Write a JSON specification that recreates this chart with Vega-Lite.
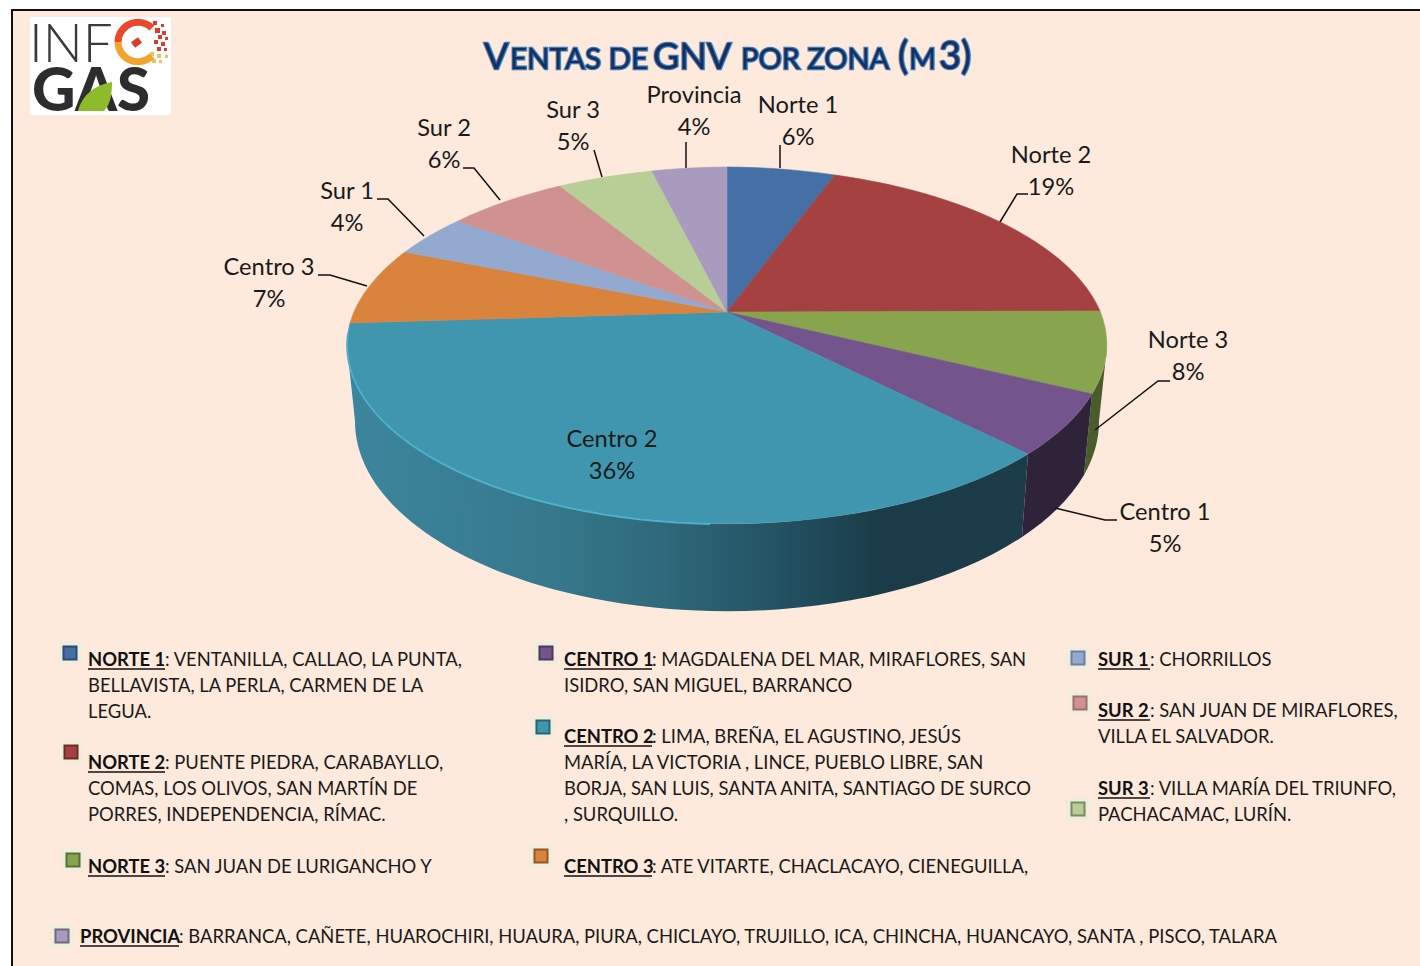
{
"$schema":"https://vega.github.io/schema/vega-lite/v6.json",
"width":1420,"height":966,"padding":0,
"autosize":{"type":"none"},
"background":"#ffffff",
"config":{"view":{"stroke":null},"font":"Lato"},
"datasets":{
"zones":[
{"idx":1,"zone":"Norte 1","head":"NORTE 1","share":0.06},
{"idx":2,"zone":"Norte 2","head":"NORTE 2","share":0.19},
{"idx":3,"zone":"Norte 3","head":"NORTE 3","share":0.08},
{"idx":4,"zone":"Centro 1","head":"CENTRO 1","share":0.05},
{"idx":5,"zone":"Centro 2","head":"CENTRO 2","share":0.36},
{"idx":6,"zone":"Centro 3","head":"CENTRO 3","share":0.07},
{"idx":7,"zone":"Sur 1","head":"SUR 1","share":0.04},
{"idx":8,"zone":"Sur 2","head":"SUR 2","share":0.06},
{"idx":9,"zone":"Sur 3","head":"SUR 3","share":0.05},
{"idx":10,"zone":"Provincia","head":"PROVINCIA","share":0.04}
],
"lines":[
{"n":1,"text":": VENTANILLA, CALLAO, LA PUNTA,"},
{"n":2,"text":"BELLAVISTA, LA PERLA, CARMEN DE LA"},
{"n":3,"text":"LEGUA."},
{"n":4,"text":": PUENTE PIEDRA, CARABAYLLO,"},
{"n":5,"text":"COMAS, LOS OLIVOS, SAN MARTÍN DE"},
{"n":6,"text":"PORRES, INDEPENDENCIA, RÍMAC."},
{"n":7,"text":": SAN JUAN DE LURIGANCHO Y"},
{"n":8,"text":": MAGDALENA DEL MAR, MIRAFLORES, SAN"},
{"n":9,"text":"ISIDRO, SAN MIGUEL, BARRANCO"},
{"n":10,"text":": LIMA, BREÑA, EL AGUSTINO, JESÚS"},
{"n":11,"text":"MARÍA, LA VICTORIA , LINCE, PUEBLO LIBRE, SAN"},
{"n":12,"text":"BORJA, SAN LUIS, SANTA ANITA, SANTIAGO DE SURCO"},
{"n":13,"text":", SURQUILLO."},
{"n":14,"text":": ATE VITARTE, CHACLACAYO, CIENEGUILLA,"},
{"n":15,"text":": CHORRILLOS"},
{"n":16,"text":": SAN JUAN DE MIRAFLORES,"},
{"n":17,"text":"VILLA EL SALVADOR."},
{"n":18,"text":": VILLA MARÍA DEL TRIUNFO,"},
{"n":19,"text":"PACHACAMAC, LURÍN."},
{"n":20,"text":": BARRANCA, CAÑETE, HUAROCHIRI, HUAURA, PIURA, CHICLAYO, TRUJILLO, ICA, CHINCHA, HUANCAYO,  SANTA , PISCO, TALARA"}
],
"title":[
{"n":1,"text":"V"},{"n":2,"text":"ENTAS DE"},{"n":3,"text":"GNV"},{"n":4,"text":"POR ZONA"},{"n":5,"text":"("},{"n":6,"text":"M"},{"n":7,"text":"3)"}
],
"logoFill":[{"part":"box"},{"part":"dotsRed"},{"part":"dotsYellow"}],
"logoStroke":[{"part":"lower"},{"part":"upper"},{"part":"needle"}]
},
"data":{"name":"zones"},
"layer":[
{"data":{"values":[{"part":"panel"}]},"mark":{"type":"point","filled":true,"size":4,"opacity":1,"fill":"#fdeadc","strokeWidth":0,"shape":"M-698,-473 H710 V483 H-698 Z"}},
{"data":{"values":[{"part":"border"}]},"mark":{"type":"point","filled":false,"size":4,"opacity":1,"stroke":"#111111","strokeWidth":2,"shape":"M-698,483 V-473 H710"}},
{"data":{"name":"logoFill"},"mark":{"type":"point","filled":true,"size":4,"opacity":1,"strokeWidth":0},"encoding":{
 "shape":{"field":"part","type":"nominal","legend":null,"scale":{"domain":["box","dotsRed","dotsYellow"],"range":[
  "M-680,-466 H-539 V-368 H-680 Z",
  "M-557,-462 h4 v4 h-4 Z M-549,-459 h3 v3 h-3 Z M-555,-455 h5 v5 h-5 Z M-548,-452 h4 v4 h-4 Z M-552,-448 h4 v4 h-4 Z M-545,-446 h3 v3 h-3 Z M-556,-443 h4 v4 h-4 Z M-549,-441 h4 v4 h-4 Z M-553,-436 h4 v4 h-4 Z M-546,-435 h3 v3 h-3 Z",
  "M-560,-431 h4 v4 h-4 Z M-553,-429 h4 v4 h-4 Z M-545,-428 h3 v3 h-3 Z M-558,-424 h4 v4 h-4 Z M-551,-423 h3 v3 h-3 Z"
 ]}},
 "fill":{"field":"part","type":"nominal","legend":null,"scale":{"domain":["box","dotsRed","dotsYellow"],"range":["#ffffff","#dd3a2a","#eec25a"]}}
}},
{"data":{"name":"logoStroke"},"mark":{"type":"point","filled":false,"size":4,"opacity":1,"strokeWidth":7},"encoding":{
 "shape":{"field":"part","type":"nominal","legend":null,"scale":{"domain":["lower","upper","needle"],"range":[
  "M-592,-441 A20,20 0 0 0 -558,-427",
  "M-592,-441 A20,20 0 0 1 -558,-455",
  "M-577,-438 L-570,-443"
 ]}},
 "stroke":{"field":"part","type":"nominal","legend":null,"scale":{"domain":["lower","upper","needle"],"range":["#f3a32b","#e9482b","#dd3a2a"]}}
}},
{"data":{"values":[{"logo":"INF"}]},"mark":{"type":"text","font":"Lato","fontWeight":300,"fontSize":53,"align":"left","baseline":"alphabetic","dx":-681,"dy":-421,"fill":"#3a3a3a"},"encoding":{"text":{"field":"logo"}}},
{"data":{"values":[{"logo":"GAS"}]},"mark":{"type":"text","font":"Lato","fontWeight":900,"fontSize":60,"align":"left","baseline":"alphabetic","dx":-678,"dy":-372,"fill":"#2d2d2d"},"encoding":{"text":{"field":"logo"}}},
{"data":{"values":[{"logo":"leaf"}]},"mark":{"type":"point","filled":true,"size":4,"opacity":1,"strokeWidth":0,"fill":"#8dbb2c","shape":"M-632,-372 C-628,-388 -615,-398 -598,-401 C-598,-388 -600,-378 -606,-372 Z"}},
{"data":{"name":"title"},"mark":{"type":"text","font":"Lato","align":"left","baseline":"alphabetic","dy":-414,"stroke":"#3f78b8","strokeWidth":2.4,"fill":"#3f78b8"},"encoding":{
 "x":{"field":"n","type":"quantitative","axis":null,"scale":{"domain":[1,2,3,4,5,6,7],"range":[484,510,653,741,898,909,939]}},
 "text":{"field":"text"},
 "size":{"field":"n","type":"quantitative","legend":null,"scale":{"zero":false,"domain":[1,2,3,4,5,6,7],"range":[36,29.5,36,29,38,29,38]}}
}},
{"data":{"name":"title"},"mark":{"type":"text","font":"Lato","align":"left","baseline":"alphabetic","dy":-414,"fill":"#14305c"},"encoding":{
 "x":{"field":"n","type":"quantitative","axis":null,"scale":{"domain":[1,2,3,4,5,6,7],"range":[484,510,653,741,898,909,939]}},
 "text":{"field":"text"},
 "size":{"field":"n","type":"quantitative","legend":null,"scale":{"zero":false,"domain":[1,2,3,4,5,6,7],"range":[36,29.5,36,29,38,29,38]}}
}},
{"transform":[{"filter":"datum.zone === 'Centro 2'"}],"mark":{"type":"point","filled":true,"size":4,"opacity":1,"strokeWidth":0,
 "fill":{"gradient":"linear","x1":0,"y1":0,"x2":1,"y2":0,"stops":[{"offset":0,"color":"#3c869d"},{"offset":0.3,"color":"#36788c"},{"offset":0.45,"color":"#2f6a7c"},{"offset":0.65,"color":"#225061"},{"offset":0.78,"color":"#1a3b47"},{"offset":1,"color":"#1b3c48"}]},
 "shape":"M318,-29 L312,54 A372,190 0 0 1 -355,-62 L-363,-137 A380,179 0 0 0 318,-29 Z"}},
{"transform":[{"filter":"datum.zone === 'Centro 1' || datum.zone === 'Norte 3'"}],"mark":{"type":"point","filled":true,"size":4,"opacity":1,"strokeWidth":0},"encoding":{
 "shape":{"field":"zone","type":"nominal","legend":null,"scale":{"domain":["Centro 1","Norte 3"],"range":[
  "M382,-89 L374,-8 A372,190 0 0 1 312,54 L318,-29 A380,179 0 0 0 382,-89 Z",
  "M397,-137 L389,-62 A372,190 0 0 1 374,-8 L382,-89 A380,179 0 0 0 397,-137 Z"]}},
 "fill":{"field":"zone","type":"nominal","legend":null,"scale":{"domain":["Centro 1","Norte 3"],"range":["#2e2339","#4a5c2c"]}}
}},
{"mark":{"type":"point","filled":true,"size":4,"opacity":1,"strokeWidth":0.6},"encoding":{
 "shape":{"field":"zone","type":"nominal","legend":null,"scale":{"domain":["Norte 1","Norte 2","Norte 3","Centro 1","Centro 2","Centro 3","Sur 1","Sur 2","Sur 3","Provincia"],"range":[
  "M17,-171 L17,-316 A380,179 0 0 1 125,-308 Z",
  "M17,-171 L125,-308 A380,179 0 0 1 390,-172 Z",
  "M17,-171 L390,-172 A380,179 0 0 1 382,-89 Z",
  "M17,-171 L382,-89 A380,179 0 0 1 318,-29 Z",
  "M17,-171 L318,-29 A380,179 0 0 1 -360,-160 Z",
  "M17,-171 L-360,-160 A380,179 0 0 1 -305,-231 Z",
  "M17,-171 L-305,-231 A380,179 0 0 1 -252,-262 Z",
  "M17,-171 L-252,-262 A380,179 0 0 1 -150,-297 Z",
  "M17,-171 L-150,-297 A380,179 0 0 1 -58,-312 Z",
  "M17,-171 L-58,-312 A380,179 0 0 1 17,-316 Z"]}},
 "fill":{"field":"zone","type":"nominal","legend":null,"scale":{"domain":["Norte 1","Norte 2","Norte 3","Centro 1","Centro 2","Centro 3","Sur 1","Sur 2","Sur 3","Provincia"],"range":["#4470a5","#a54241","#88a44e","#73548c","#4096ae","#da833c","#93a9cf","#d09291","#b9cd96","#a99bbd"]}},
 "stroke":{"field":"zone","type":"nominal","legend":null,"scale":{"domain":["Norte 1","Norte 2","Norte 3","Centro 1","Centro 2","Centro 3","Sur 1","Sur 2","Sur 3","Provincia"],"range":["#4470a5","#a54241","#88a44e","#73548c","#4096ae","#da833c","#93a9cf","#d09291","#b9cd96","#a99bbd"]}}
}},
{"transform":[{"filter":"datum.zone === 'Centro 2'"}],"mark":{"type":"point","filled":false,"size":4,"opacity":1,"stroke":"#4eb0cb","strokeWidth":1.8,"shape":"M-362,-150 A380,179 0 0 0 0,41"}},
{"transform":[{"filter":"datum.zone !== 'Centro 2'"}],"mark":{"type":"point","filled":false,"size":4,"opacity":1,"stroke":"#111111","strokeWidth":1.5},"encoding":{
 "shape":{"field":"zone","type":"nominal","legend":null,"scale":{"domain":["Norte 1","Norte 2","Norte 3","Centro 1","Centro 3","Sur 1","Sur 2","Sur 3","Provincia"],"range":[
  "M70,-315 V-338",
  "M290,-261 L307,-289 H318",
  "M385,-53 L448,-102 H460",
  "M345,25 L395,37 H407",
  "M-343,-197 L-380,-208 H-392",
  "M-286,-247 L-322,-284 H-333",
  "M-210,-283 L-236,-315 H-247",
  "M-108,-306 L-116,-333",
  "M-24,-315 V-341"]}}
}},
{"mark":{"type":"text","font":"Lato","fontSize":23.7,"align":"center","baseline":"middle","fill":"#1a1a1a"},"encoding":{
 "x":{"field":"idx","type":"quantitative","axis":null,"scale":{"domain":[1,2,3,4,5,6,7,8,9,10],"range":[798,1051,1188,1165,612,269,347,444,573,694]}},
 "y":{"field":"idx","type":"quantitative","axis":null,"scale":{"domain":[1,2,3,4,5,6,7,8,9,10],"range":[106,156,341,513,440,268,192,129,111,96]}},
 "text":{"field":"zone"}
}},
{"mark":{"type":"text","font":"Lato","fontSize":23.7,"align":"center","baseline":"middle","dy":31.5,"fill":"#1a1a1a"},"encoding":{
 "x":{"field":"idx","type":"quantitative","axis":null,"scale":{"domain":[1,2,3,4,5,6,7,8,9,10],"range":[798,1051,1188,1165,612,269,347,444,573,694]}},
 "y":{"field":"idx","type":"quantitative","axis":null,"scale":{"domain":[1,2,3,4,5,6,7,8,9,10],"range":[106,156,341,513,440,268,192,129,111,96]}},
 "text":{"field":"share","format":".0%"}
}},
{"mark":{"type":"square","size":529,"opacity":0.6,"fill":"#e6efdc","strokeWidth":0},"encoding":{
 "x":{"field":"idx","type":"quantitative","axis":null,"scale":{"domain":[1,2,3,4,5,6,7,8,9,10],"range":[70,71,73,546,543,541,1078,1080,1078,62]}},
 "y":{"field":"idx","type":"quantitative","axis":null,"scale":{"domain":[1,2,3,4,5,6,7,8,9,10],"range":[653,752,860,653,727,856,658,703,809,936]}}
}},
{"mark":{"type":"square","size":170,"opacity":1,"strokeWidth":2,"strokeOpacity":1},"encoding":{
 "x":{"field":"idx","type":"quantitative","axis":null,"scale":{"domain":[1,2,3,4,5,6,7,8,9,10],"range":[70,71,73,546,543,541,1078,1080,1078,62]}},
 "y":{"field":"idx","type":"quantitative","axis":null,"scale":{"domain":[1,2,3,4,5,6,7,8,9,10],"range":[653,752,860,653,727,856,658,703,809,936]}},
 "fill":{"field":"zone","type":"nominal","legend":null,"scale":{"domain":["Norte 1","Norte 2","Norte 3","Centro 1","Centro 2","Centro 3","Sur 1","Sur 2","Sur 3","Provincia"],"range":["#4470a5","#a54241","#88a44e","#73548c","#4096ae","#da833c","#93a9cf","#d09291","#b9cd96","#a99bbd"]}},
 "stroke":{"field":"zone","type":"nominal","legend":null,"scale":{"domain":["Norte 1","Norte 2","Norte 3","Centro 1","Centro 2","Centro 3","Sur 1","Sur 2","Sur 3","Provincia"],"range":["#2c4b72","#6f2c2b","#5b6e34","#4d385e","#2b6475","#935828","#6f7f9c","#9c6e6d","#7c8a64","#71687f"]}}
}},
{"mark":{"type":"text","font":"Lato","fontWeight":"bold","fontSize":18.4,"align":"left","baseline":"alphabetic","fill":"#111111"},"encoding":{
 "x":{"field":"idx","type":"quantitative","axis":null,"scale":{"domain":[1,2,3,4,5,6,7,8,9,10],"range":[88,88,88,564,564,564,1098,1098,1098,80]}},
 "y":{"field":"idx","type":"quantitative","axis":null,"scale":{"domain":[1,2,3,4,5,6,7,8,9,10],"range":[666,769,873,666,743,873,666,717,795,943]}},
 "text":{"field":"head"}
}},
{"mark":{"type":"point","filled":false,"size":4,"opacity":1,"stroke":"#111111","strokeWidth":1.6},"encoding":{
 "x":{"field":"idx","type":"quantitative","axis":null,"scale":{"domain":[1,2,3,4,5,6,7,8,9,10],"range":[88,88,88,564,564,564,1098,1098,1098,80]}},
 "y":{"field":"idx","type":"quantitative","axis":null,"scale":{"domain":[1,2,3,4,5,6,7,8,9,10],"range":[666,769,873,666,743,873,666,717,795,943]}},
 "shape":{"field":"idx","type":"ordinal","legend":null,"scale":{"domain":[1,2,3,4,5,6,7,8,9,10],"range":["M0,3 H77","M0,3 H77","M0,3 H77","M0,3 H88","M0,3 H88","M0,3 H88","M0,3 H52","M0,3 H52","M0,3 H52","M0,3 H99"]}}
}},
{"data":{"name":"lines"},"mark":{"type":"text","font":"Lato","fontSize":18.4,"align":"left","baseline":"alphabetic","fill":"#1a1a1a"},"encoding":{
 "x":{"field":"n","type":"quantitative","axis":null,"scale":{"domain":[1,2,3,4,5,6,7,8,9,10,11,12,13,14,15,16,17,18,19,20],"range":[165,88,88,165,88,88,165,652,564,652,564,564,564,652,1150,1150,1098,1150,1098,179]}},
 "y":{"field":"n","type":"quantitative","axis":null,"scale":{"domain":[1,2,3,4,5,6,7,8,9,10,11,12,13,14,15,16,17,18,19,20],"range":[666,692,718,769,795,821,873,666,692,743,769,795,821,873,666,717,743,795,821,943]}},
 "text":{"field":"text"}
}}
],
"resolve":{"scale":{"x":"independent","y":"independent","shape":"independent","fill":"independent","stroke":"independent","size":"independent"}}
}
